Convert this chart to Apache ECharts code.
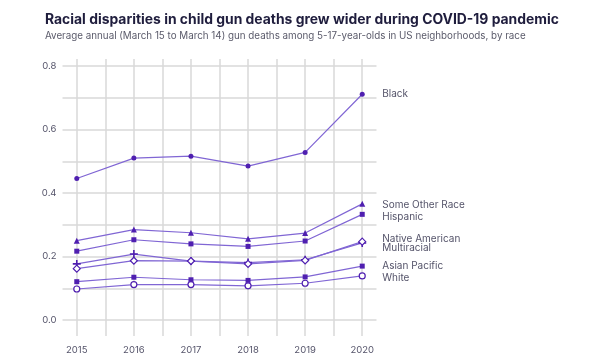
<!DOCTYPE html>
<html>
<head>
<meta charset="utf-8">
<script src="https://cdn.jsdelivr.net/npm/echarts@6/dist/echarts.min.js"></script>
<style>
html,body{margin:0;padding:0;background:#fff;}
#chart{width:600px;height:362px;}
</style>
</head>
<body>
<div id="chart"></div>
<script>
const years = [2015, 2016, 2017, 2018, 2019, 2020];
const black = [0.446, 0.510, 0.516, 0.485, 0.528, 0.711];
const someOtherRace = [0.250, 0.285, 0.275, 0.256, 0.274, 0.366];
const hispanic = [0.217, 0.253, 0.240, 0.232, 0.249, 0.333];
const nativeAmerican = [0.177, 0.208, 0.186, 0.181, 0.190, 0.243];
const multiracial = [0.162, 0.187, 0.186, 0.177, 0.188, 0.247];
const asianPacific = [0.121, 0.135, 0.127, 0.125, 0.136, 0.170];
const white = [0.098, 0.112, 0.112, 0.108, 0.116, 0.139];
const yTickLabels = [0.0, 0.2, 0.4, 0.6, 0.8];

const LINE = '#8066d4';
const MARK = '#4f1fb0';
const FONT = 'Inter, "Noto Sans", sans-serif';

const plusPath = 'path://M4,0H6V4H10V6H6V10H4V6H0V4H4Z';

function mk(name, vals, symbol, size, filled, dy) {
  return {
    name: name,
    type: 'line',
    data: years.map((y, i) => [y, vals[i]]),
    symbol: symbol,
    symbolSize: size,
    showAllSymbol: true,
    lineStyle: {color: LINE, width: 1.2},
    itemStyle: {color: filled ? MARK : '#ffffff', borderColor: MARK, borderWidth: filled ? 0 : 1.2},
    emphasis: {disabled: true},
    endLabel: {
      show: true,
      formatter: name,
      distance: 0,
      offset: [20, dy],
      color: '#55546a',
      fontFamily: FONT,
      fontSize: 10,
      letterSpacing: -0.2
    },
    z: 3
  };
}

const chart = echarts.init(document.getElementById('chart'), null, {renderer: 'canvas'});
chart.setOption({
  animation: false,
  backgroundColor: '#ffffff',
  title: {
    text: 'Racial disparities in child gun deaths grew wider during COVID-19 pandemic',
    subtext: 'Average annual (March 15 to March 14) gun deaths among 5-17-year-olds in US neighborhoods, by race',
    left: 45,
    top: 13,
    padding: 0,
    itemGap: 4,
    textStyle: {fontFamily: FONT, fontSize: 13.9, fontWeight: 'bold', color: '#1f1d3d', letterSpacing: -0.3},
    subtextStyle: {fontFamily: FONT, fontSize: 9.8, color: '#5a5a6a', letterSpacing: -0.25}
  },
  grid: {left: 62.5, right: 223.5, top: 59, bottom: 26, containLabel: false},
  xAxis: {
    type: 'value',
    min: 2014.75,
    max: 2020.25,
    interval: 0.25,
    axisLine: {show: false},
    axisTick: {show: false},
    axisLabel: {
      margin: 9,
      color: '#55546a',
      fontFamily: FONT,
      fontSize: 9.5,
      showMinLabel: true,
      showMaxLabel: true,
      formatter: v => (Math.abs(v - Math.round(v)) < 1e-6 && years.indexOf(Math.round(v)) >= 0) ? String(Math.round(v)) : ''
    },
    splitLine: {show: true, lineStyle: {color: ['rgba(0,0,0,0)', '#d9d9d9'], width: 1.5}}
  },
  yAxis: {
    type: 'value',
    min: -0.05,
    max: 0.822,
    interval: 0.05,
    axisLine: {show: false},
    axisTick: {show: false},
    axisLabel: {
      margin: 6,
      color: '#55546a',
      fontFamily: FONT,
      fontSize: 9.5,
      formatter: v => {
        const m = yTickLabels.find(t => Math.abs(t - v) < 1e-6);
        return m === undefined ? '' : m.toFixed(1);
      }
    },
    splitLine: {show: true, lineStyle: {color: ['rgba(0,0,0,0)', '#d9d9d9'], width: 1.5}}
  },
  series: [
    mk('Black', black, 'circle', 5, true, 0),
    mk('Some Other Race', someOtherRace, 'triangle', 6, true, 1),
    mk('Hispanic', hispanic, 'rect', 5, true, 3),
    mk('Native American', nativeAmerican, plusPath, 8, true, -4),
    mk('Multiracial', multiracial, 'diamond', 7, false, 6),
    mk('Asian Pacific', asianPacific, 'rect', 5, true, 0),
    mk('White', white, 'circle', 6, false, 2)
  ]
});
</script>
</body>
</html>
